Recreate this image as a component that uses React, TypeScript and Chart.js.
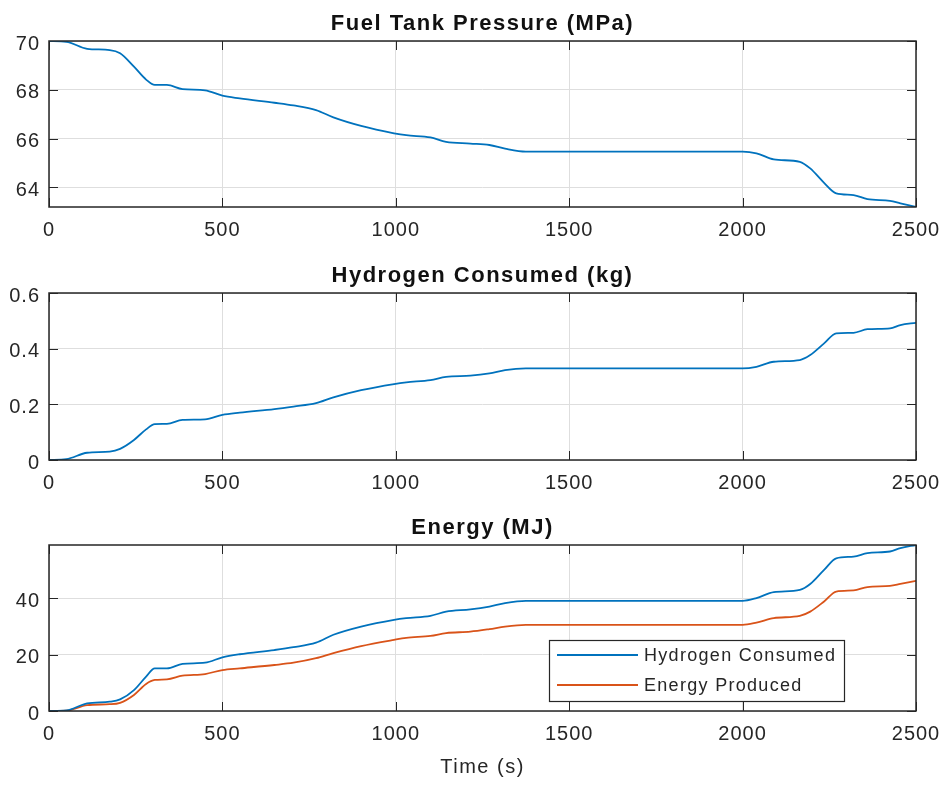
import React, { useEffect, useRef } from "react";
import { Chart, registerables } from "chart.js";

Chart.register(...registerables);

// ---------------- data ----------------
const TIME = [0, 50, 110, 175, 205, 245, 280, 305, 340, 385, 450, 500, 550, 650, 705, 770, 820, 900, 995, 1030, 1100, 1145, 1215, 1270, 1315, 1375, 2000, 2040, 2090, 2165, 2195, 2235, 2270, 2320, 2360, 2425, 2455, 2500];

const TANK_PRESSURE = [70.0, 69.97, 69.68, 69.63, 69.5, 68.95, 68.42, 68.2, 68.2, 68.03, 67.98, 67.76, 67.65, 67.47, 67.36, 67.17, 66.87, 66.52, 66.22, 66.14, 66.05, 65.87, 65.8, 65.74, 65.59, 65.47, 65.47, 65.4, 65.15, 65.05, 64.78, 64.19, 63.76, 63.69, 63.52, 63.45, 63.35, 63.2];

const H2_CONSUMED = [0, 0.003, 0.026, 0.03, 0.04, 0.072, 0.11, 0.129, 0.13, 0.144, 0.146, 0.162, 0.17, 0.183, 0.192, 0.204, 0.225, 0.251, 0.273, 0.279, 0.287, 0.299, 0.303, 0.311, 0.323, 0.329, 0.329, 0.335, 0.353, 0.359, 0.377, 0.419, 0.455, 0.457, 0.47, 0.473, 0.485, 0.493];

const ENERGY_H2 = [0, 0.2, 2.7, 3.3, 4.1, 7.4, 12.2, 15.1, 15.1, 16.7, 17.1, 19.0, 20.1, 21.6, 22.6, 24.2, 27.0, 29.9, 32.3, 32.9, 33.7, 35.2, 36.0, 37.0, 38.2, 39.0, 39.0, 40.0, 42.1, 42.9, 45.0, 50.0, 54.1, 54.7, 55.9, 56.5, 57.7, 58.8];

const ENERGY_PRODUCED = [0, 0.1, 2.1, 2.4, 2.9, 5.7, 9.6, 11.0, 11.2, 12.5, 13.1, 14.5, 15.1, 16.3, 17.1, 18.7, 20.5, 23.0, 25.2, 25.9, 26.6, 27.6, 28.1, 29.0, 29.9, 30.5, 30.5, 31.3, 32.9, 33.7, 35.2, 38.8, 42.3, 42.7, 43.9, 44.3, 45.0, 46.1];

const X_TICKS = [0, 500, 1000, 1500, 2000, 2500];
const X_RANGE = [0, 2500];
const Y1_TICKS = [64, 66, 68, 70];
const Y1_RANGE = [63.2, 70];
const Y2_TICKS = [0, 0.2, 0.4, 0.6];
const Y2_RANGE = [0, 0.6];
const Y3_TICKS = [0, 20, 40];
const Y3_RANGE = [0, 58.8];

const TITLES = ["Fuel Tank Pressure (MPa)", "Hydrogen Consumed (kg)", "Energy (MJ)"];
const X_LABEL = "Time (s)";
const SERIES_LABELS = ["Hydrogen Consumed", "Energy Produced"];

// ---------------- style ----------------
const FONT = '"Liberation Sans", Arial, Helvetica, sans-serif';
const DARK = "#262626";
const GRID = "#dedede";
const BLUE = "#0072BD";
const ORANGE = "#D95319";

const W = 947;

const matlabPlugin = {
  id: "matlab",
  beforeDraw(chart: any) {
    (chart.ctx as any).letterSpacing = "1px";
  },
  beforeDatasetsDraw(chart: any) {
    const { ctx, chartArea: a, scales } = chart;
    ctx.save();
    ctx.strokeStyle = DARK;
    ctx.lineWidth = 1;
    ctx.beginPath();
    const tl = 9;
    for (const t of scales.x.ticks) {
      const px = Math.round(scales.x.getPixelForValue(t.value)) + 0.5;
      ctx.moveTo(px, a.bottom);
      ctx.lineTo(px, a.bottom - tl);
      ctx.moveTo(px, a.top);
      ctx.lineTo(px, a.top + tl);
    }
    for (const t of scales.y.ticks) {
      const py = Math.round(scales.y.getPixelForValue(t.value)) + 0.5;
      ctx.moveTo(a.left, py);
      ctx.lineTo(a.left + tl, py);
      ctx.moveTo(a.right, py);
      ctx.lineTo(a.right - tl, py);
    }
    ctx.stroke();
    ctx.restore();
  },
  afterDraw(chart: any, _args: any, opts: any) {
    const { ctx, chartArea: a } = chart;
    ctx.save();
    // axes box
    ctx.strokeStyle = DARK;
    ctx.lineWidth = 1.5;
    ctx.strokeRect(Math.round(a.left), Math.round(a.top), Math.round(a.right) - Math.round(a.left), Math.round(a.bottom) - Math.round(a.top));

    const cx = (a.left + a.right) / 2;
    // title
    if (opts.title) {
      ctx.font = `bold 22px ${FONT}`;
      (ctx as any).letterSpacing = "1.5px";
      ctx.fillStyle = "#111";
      ctx.textAlign = "center";
      ctx.textBaseline = "alphabetic";
      ctx.fillText(opts.title, cx, a.top - 11);
    }
    // x label
    if (opts.xlabel) {
      ctx.font = `20px ${FONT}`;
      (ctx as any).letterSpacing = "1.5px";
      ctx.fillStyle = DARK;
      ctx.textAlign = "center";
      ctx.textBaseline = "alphabetic";
      ctx.fillText(opts.xlabel, cx, a.bottom + 62);
    }
    // legend
    if (opts.legend) {
      ctx.font = `18px ${FONT}`;
      (ctx as any).letterSpacing = "1.3px";
      const ds = chart.data.datasets;
      const tw = Math.max(...ds.map((d: any) => ctx.measureText(d.label).width));
      const w = 8 + 81 + 6 + tw + 8;
      const h = 61;
      const right = Math.round(a.right - 72);
      const bottom = Math.round(a.bottom - 10);
      const left = Math.round(right - w);
      const top = bottom - h;
      ctx.fillStyle = "#fff";
      ctx.fillRect(left, top, right - left, h);
      ctx.strokeStyle = DARK;
      ctx.lineWidth = 1.2;
      ctx.strokeRect(left + 0.5, top + 0.5, right - left, h);
      ds.forEach((d: any, i: number) => {
        const y = top + 15 + i * 30;
        ctx.strokeStyle = d.borderColor;
        ctx.lineWidth = 1.8;
        ctx.beginPath();
        ctx.moveTo(left + 8, y);
        ctx.lineTo(left + 89, y);
        ctx.stroke();
        ctx.fillStyle = DARK;
        ctx.textAlign = "left";
        ctx.textBaseline = "middle";
        ctx.fillText(d.label, left + 95, y + 1);
      });
    }
    ctx.restore();
  },
};

type PanelProps = {
  top: number;
  height: number;
  areaTop: number;
  areaBottom: number;
  datasets: { label: string; values: number[]; color: string }[];
  yRange: number[];
  yTicks: number[];
  title: string;
  xlabel?: string;
  legend?: boolean;
};

const plainLabel = (v: any) => String(v);

function Panel(p: PanelProps) {
  const ref = useRef<HTMLCanvasElement | null>(null);
  useEffect(() => {
    if (!ref.current) return;
    const xHeight = p.height - p.areaBottom;
    const tickFont = { family: FONT, size: 20 };
    const chart = new Chart(ref.current, {
      type: "line",
      data: {
        datasets: p.datasets.map((d) => ({
          label: d.label,
          data: TIME.map((t, i) => ({ x: t, y: d.values[i] })),
          borderColor: d.color,
          backgroundColor: d.color,
          borderWidth: 1.8,
          pointRadius: 0,
          cubicInterpolationMode: "monotone" as const,
          fill: false,
        })),
      },
      options: {
        animation: false,
        responsive: false,
        maintainAspectRatio: false,
        devicePixelRatio: 1,
        events: [],
        layout: { padding: { top: p.areaTop, right: 31, bottom: 0, left: 0 } },
        plugins: {
          legend: { display: false },
          title: { display: false },
          tooltip: { enabled: false },
          matlab: { title: p.title, xlabel: p.xlabel, legend: p.legend },
        } as any,
        scales: {
          x: {
            type: "linear",
            min: X_RANGE[0],
            max: X_RANGE[1],
            afterBuildTicks: (s: any) => {
              s.ticks = X_TICKS.map((v) => ({ value: v }));
            },
            afterFit: (s: any) => {
              s.height = xHeight;
              s.paddingLeft = 0;
              s.paddingRight = 0;
            },
            grid: { color: GRID, lineWidth: 1, drawTicks: false },
            border: { display: false },
            ticks: { autoSkip: false, maxRotation: 0, padding: 11.5, color: DARK, font: tickFont, callback: plainLabel },
          },
          y: {
            type: "linear",
            min: p.yRange[0],
            max: p.yRange[1],
            afterBuildTicks: (s: any) => {
              s.ticks = p.yTicks.map((v) => ({ value: v }));
            },
            afterFit: (s: any) => {
              s.width = 49;
              s.paddingTop = 0;
              s.paddingBottom = 0;
            },
            grid: { color: GRID, lineWidth: 1, drawTicks: false },
            border: { display: false },
            ticks: { padding: 9, labelOffset: 3, color: DARK, font: tickFont, callback: plainLabel },
          },
        },
      },
      plugins: [matlabPlugin],
    });
    return () => chart.destroy();
  }, []);
  return (
    <canvas
      ref={ref}
      width={W}
      height={p.height}
      style={{ position: "absolute", left: 0, top: p.top, width: W, height: p.height, display: "block" }}
    />
  );
}

export default function App() {
  return (
    <div style={{ position: "absolute", left: 0, top: 0, width: W, height: 785, background: "#fff" }}>
      <Panel
        top={0}
        height={250}
        areaTop={41}
        areaBottom={207}
        datasets={[{ label: TITLES[0], values: TANK_PRESSURE, color: BLUE }]}
        yRange={Y1_RANGE}
        yTicks={Y1_TICKS}
        title={TITLES[0]}
      />
      <Panel
        top={250}
        height={250}
        areaTop={43}
        areaBottom={210}
        datasets={[{ label: TITLES[1], values: H2_CONSUMED, color: BLUE }]}
        yRange={Y2_RANGE}
        yTicks={Y2_TICKS}
        title={TITLES[1]}
      />
      <Panel
        top={500}
        height={285}
        areaTop={45}
        areaBottom={211}
        datasets={[
          { label: SERIES_LABELS[0], values: ENERGY_H2, color: BLUE },
          { label: SERIES_LABELS[1], values: ENERGY_PRODUCED, color: ORANGE },
        ]}
        yRange={Y3_RANGE}
        yTicks={Y3_TICKS}
        title={TITLES[2]}
        xlabel={X_LABEL}
        legend
      />
    </div>
  );
}
